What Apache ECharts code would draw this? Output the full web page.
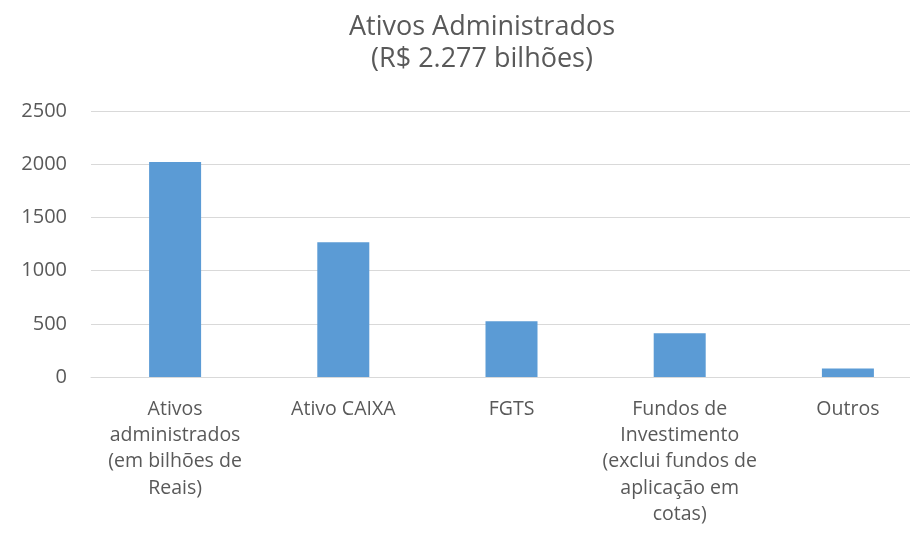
<!DOCTYPE html>
<html>
<head>
<meta charset="utf-8">
<script src="https://cdn.jsdelivr.net/npm/echarts@6/dist/echarts.min.js"></script>
<style>
  html, body { margin: 0; padding: 0; background: #fff; }
  #chart { width: 910px; height: 536px; }
</style>
</head>
<body>
<div id="chart"></div>
<script>
// dados
var categorias = [
    'Ativos\nadministrados\n(em bilhões de\nReais)',
    'Ativo CAIXA',
    'FGTS',
    'Fundos de\nInvestimento\n(exclui fundos de\naplicação em\ncotas)',
    'Outros'
];
var valores = [2020, 1266, 525, 412, 79];
var titulo = 'Ativos Administrados\n(R$ 2.277 bilhões)';

var fonte = 'Open Sans, Noto Sans, sans-serif';
var myChart = echarts.init(document.getElementById('chart'));

var option = {
    backgroundColor: '#ffffff',
    animation: false,
    title: {
        text: titulo,
        left: 477,
        textAlign: 'center',
        top: 6,
        textStyle: {
            fontFamily: fonte,
            fontSize: 27,
            fontWeight: 'normal',
            color: '#595959',
            lineHeight: 32
        }
    },
    grid: {
        left: 91,
        top: 111,
        width: 841,
        height: 266,
        containLabel: false,
        outerBoundsMode: 'none'
    },
    xAxis: {
        type: 'category',
        data: categorias,
        axisLine: { lineStyle: { color: '#d9d9d9', width: 1 } },
        axisTick: { show: false },
        axisLabel: {
            interval: 0,
            margin: 19,
            fontFamily: fonte,
            fontSize: 19.5,
            lineHeight: 26.3,
            color: '#595959'
        }
    },
    yAxis: {
        type: 'value',
        min: 0,
        max: 2500,
        interval: 500,
        axisLine: { show: false },
        axisTick: { show: false },
        splitLine: { lineStyle: { color: '#d9d9d9', width: 1 } },
        axisLabel: {
            margin: 24,
            fontFamily: fonte,
            fontSize: 20,
            color: '#595959',
            formatter: function (v) { return String(v); }
        }
    },
    series: [{
        type: 'bar',
        data: valores,
        barWidth: 52,
        itemStyle: { color: '#5b9bd5' }
    }]
};

myChart.setOption(option);
</script>
</body>
</html>
